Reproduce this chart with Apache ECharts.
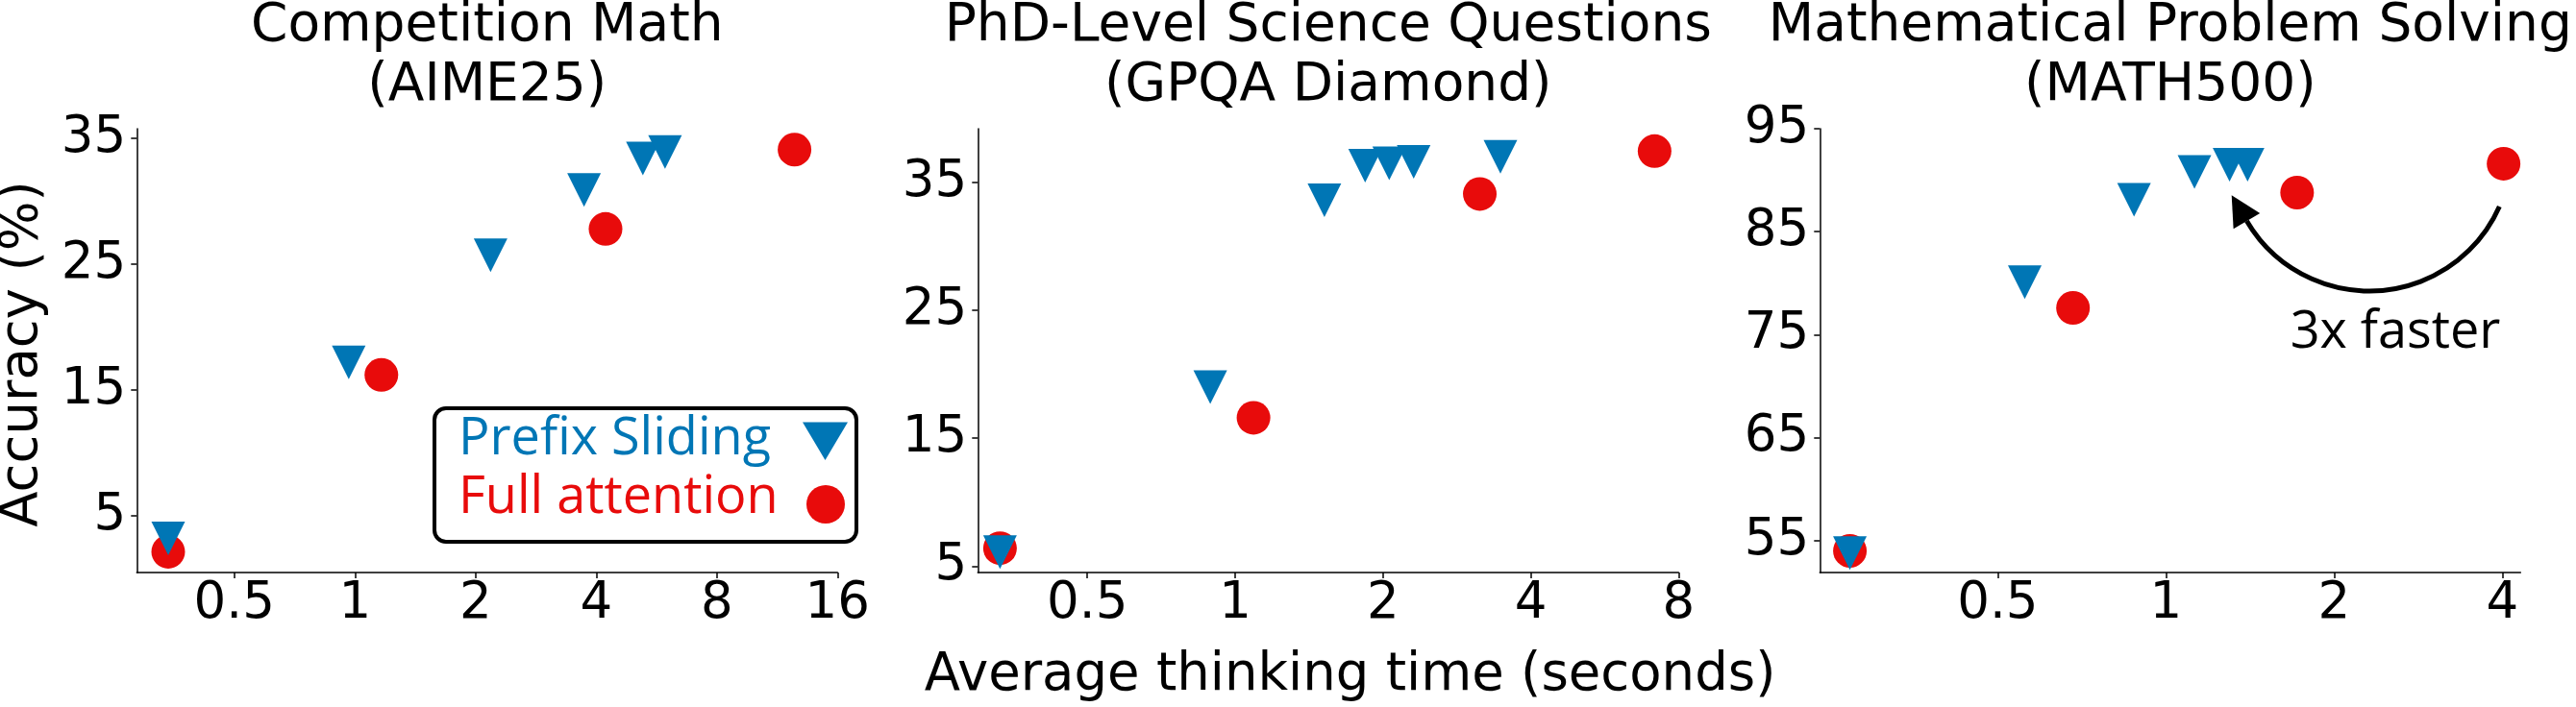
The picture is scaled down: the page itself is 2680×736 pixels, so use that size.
<!DOCTYPE html>
<html>
<head>
    <meta charset="utf-8"/>
    <title>Prefix Sliding vs Full attention</title>
    <script src="https://cdn.jsdelivr.net/npm/echarts@6.0.0/dist/echarts.min.js"></script>
    <style>
        html, body { margin: 0; padding: 0; background: #fff; }
        #myChart { width: 2680px; height: 736px; }
    </style>
</head>
<body>
<div id="myChart"></div>
<script>
    // 数据
    var panelTitles = ['Competition Math\n(AIME25)', 'PhD-Level Science Questions\n(GPQA Diamond)', 'Mathematical Problem Solving\n(MATH500)'];
    var seriesNames = ['Prefix Sliding', 'Full attention'];

    var aimePrefixTime = [0.342, 0.965, 2.18, 3.73, 5.23, 5.94];
    var aimePrefixAcc  = [3.2, 17.2, 25.7, 30.9, 33.4, 33.9];
    var aimeFullTime   = [0.342, 1.164, 4.22, 12.5];
    var aimeFullAcc    = [2.15, 16.2, 27.8, 34.1];

    var gpqaPrefixTime = [0.332, 0.89, 1.52, 1.84, 2.06, 2.31, 3.47];
    var gpqaPrefixAcc  = [6.1, 19.0, 33.6, 36.3, 36.5, 36.6, 37.0];
    var gpqaFullTime   = [0.332, 1.09, 3.15, 7.15];
    var gpqaFullAcc    = [6.4, 16.6, 34.1, 37.45];

    var mathPrefixTime = [0.272, 0.559, 0.877, 1.125, 1.30, 1.40];
    var mathPrefixAcc  = [53.8, 80.1, 88.1, 90.8, 91.5, 91.5];
    var mathFullTime   = [0.272, 0.682, 1.717, 4.02];
    var mathFullAcc    = [54.0, 77.6, 88.8, 91.6];

    var xTickValues = [[0.5, 1, 2, 4, 8, 16], [0.5, 1, 2, 4, 8], [0.5, 1, 2, 4]];
    var yTickValues = [[5, 15, 25, 35], [5, 15, 25, 35], [55, 65, 75, 85, 95]];
    var xRanges = [[0.2855, 16], [0.2992, 8], [0.2403, 4.311]];
    var yRanges = [[0.5, 35.76], [4.5, 39.2], [51.9, 95]];

    var annotationText = '3x faster';

    // 布局 / 样式
    var BLUE = '#0076b5';
    var RED = '#e80b0b';
    var gridLefts = [142.3, 1017.3, 1893.3];
    var GRID_TOP = 134, GRID_W = 729, GRID_H = 462;
    var AXIS_FONT = 'DejaVu Sans';
    var KEY_FONT = 'Open Sans';

    var pairs = function (xs, ys) {
        return xs.map(function (x, i) { return [x, ys[i]]; });
    };
    var panelData = [
        [pairs(aimePrefixTime, aimePrefixAcc), pairs(aimeFullTime, aimeFullAcc)],
        [pairs(gpqaPrefixTime, gpqaPrefixAcc), pairs(gpqaFullTime, gpqaFullAcc)],
        [pairs(mathPrefixTime, mathPrefixAcc), pairs(mathFullTime, mathFullAcc)]
    ];

    var grids = [], xAxes = [], yAxes = [], titles = [], series = [];
    for (var i = 0; i < 3; i++) {
        grids.push({
            left: gridLefts[i], top: GRID_TOP, width: GRID_W, height: GRID_H,
            containLabel: false, outerBoundsMode: 'none'
        });
        titles.push({
            text: panelTitles[i],
            left: gridLefts[i] + GRID_W / 2,
            top: -3,
            textAlign: 'center',
            padding: 0,
            textStyle: {fontFamily: AXIS_FONT, fontSize: 55, fontWeight: 'normal', color: '#000', lineHeight: 62}
        });
        xAxes.push({
            gridIndex: i, type: 'log', logBase: 2,
            min: xRanges[i][0], max: xRanges[i][1],
            axisLine: {onZero: false, lineStyle: {color: '#000', width: 1.5}},
            axisTick: {show: true, length: 6, lineStyle: {color: '#000', width: 1.5}, customValues: xTickValues[i]},
            axisLabel: {
                customValues: xTickValues[i], margin: 7,
                fontFamily: AXIS_FONT, fontSize: 53, color: '#000',
                formatter: function (v) { return String(+v.toFixed(3)); }
            },
            splitLine: {show: false}, minorTick: {show: false}
        });
        yAxes.push({
            gridIndex: i, type: 'value',
            min: yRanges[i][0], max: yRanges[i][1],
            axisLine: {show: true, onZero: false, lineStyle: {color: '#000', width: 1.5}},
            axisTick: {show: true, length: 6, lineStyle: {color: '#000', width: 1.5}, customValues: yTickValues[i]},
            axisLabel: {customValues: yTickValues[i], margin: 11, fontFamily: AXIS_FONT, fontSize: 53, color: '#000'},
            splitLine: {show: false}
        });
        series.push({
            name: seriesNames[1], type: 'scatter', xAxisIndex: i, yAxisIndex: i,
            data: panelData[i][1], symbol: 'circle', symbolSize: 35,
            itemStyle: {color: RED, opacity: 1}, z: 2, silent: true
        });
        series.push({
            name: seriesNames[0], type: 'scatter', xAxisIndex: i, yAxisIndex: i,
            data: panelData[i][0], symbol: 'triangle', symbolRotate: 180, symbolSize: 35,
            itemStyle: {color: BLUE, opacity: 1}, z: 3, silent: true
        });
    }

    // 图例 (方框, 文字在左, 标记在右)
    var legendGraphic = {
        type: 'group', z: 10,
        children: [
            {type: 'rect', shape: {x: 452, y: 425, width: 439, height: 139, r: 12},
             style: {fill: '#fff', stroke: '#000', lineWidth: 4}},
            {type: 'text', style: {text: seriesNames[0], x: 477, y: 458, fill: BLUE,
             font: '54px "' + KEY_FONT + '"', align: 'left', verticalAlign: 'middle'}},
            {type: 'text', style: {text: seriesNames[1], x: 477, y: 519, fill: RED,
             font: '54px "' + KEY_FONT + '"', align: 'left', verticalAlign: 'middle'}},
            {type: 'polygon', shape: {points: [[835, 439.5], [882, 439.5], [858.5, 479]]}, style: {fill: BLUE}},
            {type: 'circle', shape: {cx: 859, cy: 525, r: 20}, style: {fill: RED}}
        ]
    };

    // 弧形箭头 "3x faster"
    var arcC = [2465, 155], arcR = 148, a0 = 0.417, a1 = 2.61;
    var base = [arcC[0] + arcR * Math.cos(a1), arcC[1] + arcR * Math.sin(a1)];
    var dir = [-Math.sin(a1), Math.cos(a1)];
    var nrm = [-dir[1], dir[0]];
    var headLen = 31, headHalf = 16;
    var arrowGraphic = {
        type: 'group', z: 10,
        children: [
            {type: 'arc', shape: {cx: arcC[0], cy: arcC[1], r: arcR, startAngle: a0, endAngle: a1, clockwise: true},
             style: {stroke: '#000', lineWidth: 5, fill: null}},
            {type: 'polygon', shape: {points: [
                [base[0] + dir[0] * headLen, base[1] + dir[1] * headLen],
                [base[0] + nrm[0] * headHalf, base[1] + nrm[1] * headHalf],
                [base[0] - nrm[0] * headHalf, base[1] - nrm[1] * headHalf]
            ]}, style: {fill: '#000'}},
            {type: 'text', style: {text: annotationText, x: 2492, y: 347, fill: '#000',
             font: '54px "' + KEY_FONT + '"', align: 'center', verticalAlign: 'middle'}}
        ]
    };

    // 轴标题
    var axisNames = [
        {type: 'text', z: 10, style: {text: 'Average thinking time (seconds)', x: 1404.6, y: 704, fill: '#000',
         font: '54.5px "' + AXIS_FONT + '"', align: 'center', verticalAlign: 'middle'}},
        {type: 'text', z: 10, x: 24, y: 368.5, rotation: Math.PI / 2,
         style: {text: 'Accuracy (%)', x: 0, y: 0, fill: '#000',
         font: '54.5px "' + AXIS_FONT + '"', align: 'center', verticalAlign: 'middle'}}
    ];

    var myChart = echarts.init(document.getElementById('myChart'), null, {renderer: 'canvas'});
    myChart.setOption({
        animation: false,
        backgroundColor: '#fff',
        title: titles,
        grid: grids,
        xAxis: xAxes,
        yAxis: yAxes,
        series: series,
        graphic: [legendGraphic, arrowGraphic].concat(axisNames)
    });
</script>
</body>
</html>
